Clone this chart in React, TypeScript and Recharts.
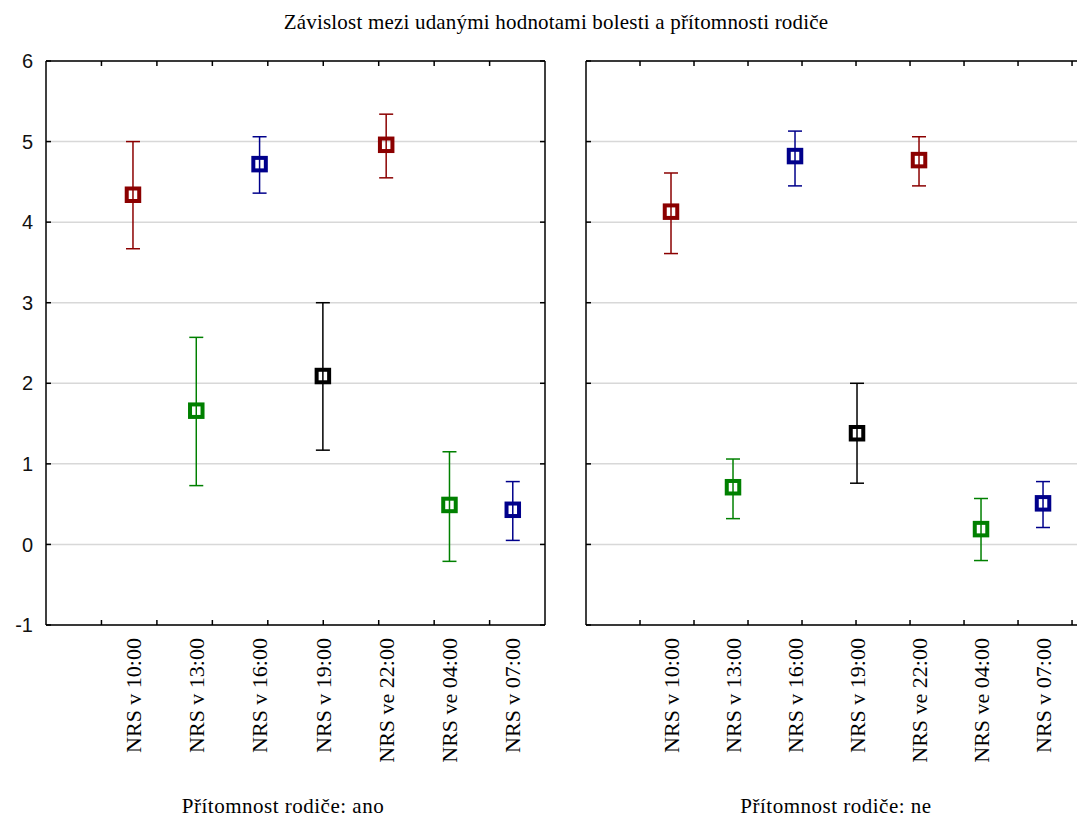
import { ScatterChart, Scatter, XAxis, YAxis, CartesianGrid, ErrorBar } from 'recharts'

const CATEGORIES = [
  'NRS v 10:00',
  'NRS v 13:00',
  'NRS v 16:00',
  'NRS v 19:00',
  'NRS ve 22:00',
  'NRS ve 04:00',
  'NRS v 07:00',
]
const POINT_COLORS = ['#8b0000', '#008000', '#00008b', '#000000', '#8b0000', '#008000', '#00008b']

// Přítomnost rodiče: ano
const ANO_MEAN = [4.34, 1.66, 4.72, 2.09, 4.96, 0.49, 0.43]
const ANO_LOW = [3.67, 0.73, 4.36, 1.17, 4.55, -0.21, 0.05]
const ANO_HIGH = [5.0, 2.57, 5.06, 3.0, 5.34, 1.15, 0.78]

// Přítomnost rodiče: ne
const NE_MEAN = [4.13, 0.71, 4.82, 1.38, 4.77, 0.19, 0.51]
const NE_LOW = [3.61, 0.32, 4.45, 0.76, 4.45, -0.2, 0.21]
const NE_HIGH = [4.61, 1.06, 5.13, 2.0, 5.06, 0.57, 0.78]

const Y_TICKS = [-1, 0, 1, 2, 3, 4, 5, 6]
const CAT_TICKS = [1, 2, 3, 4, 5, 6, 7]

const TITLE = 'Závislost mezi udanými hodnotami bolesti a přítomnosti rodiče'
const PANEL_LABELS = ['Přítomnost rodiče: ano', 'Přítomnost rodiče: ne']

const SERIF = '"Liberation Serif", "Times New Roman", serif'
const SANS = '"Liberation Sans", Arial, sans-serif'

function buildRows(mean: number[], low: number[], high: number[]) {
  return mean.map((m, i) => ({
    x: i + 1,
    y: m,
    err: [m - low[i], high[i] - m],
  }))
}

const SquareMarker = (props: any) => {
  const { cx, cy, fill } = props
  if (cx == null || cy == null) return null
  return (
    <rect x={cx - 6.25} y={cy - 6.25} width={12.5} height={12.5} fill="none" stroke={fill} strokeWidth={4} />
  )
}

const Nothing = () => <g />

const CategoryTick = (props: any) => {
  const { x, y, payload } = props
  const label = CATEGORIES[payload.value - 1]
  if (!label) return null
  return (
    <text
      x={x}
      y={y}
      transform={`rotate(-90, ${x}, ${y})`}
      textAnchor="end"
      dy="0.35em"
      fontFamily={SERIF}
      fontSize={22}
      fill="#000"
    >
      {label}
    </text>
  )
}

const frameLine = { stroke: '#000', strokeWidth: 1.5 }

interface PanelProps {
  mean: number[]
  low: number[]
  high: number[]
  domain: [number, number]
  frameStep: number
  showYLabels: boolean
}

function Panel({ mean, low, high, domain, frameStep, showYLabels }: PanelProps) {
  const rows = buildRows(mean, low, high)
  const frameTicks: number[] = []
  for (let v = domain[0] + frameStep; v < domain[1] - 0.01; v += frameStep) frameTicks.push(v)

  return (
    <ScatterChart
      width={560}
      height={818}
      margin={{ top: 61, right: 15, bottom: 0, left: showYLabels ? 0 : 46 }}
    >
      <CartesianGrid
        xAxisId="cat"
        yAxisId="val"
        vertical={false}
        stroke="#d8d8d8"
        strokeWidth={1.5}
      />
      <XAxis
        xAxisId="cat"
        type="number"
        dataKey="x"
        domain={domain}
        ticks={CAT_TICKS}
        interval={0}
        allowDataOverflow
        height={193}
        axisLine={false}
        tickLine={false}
        tickSize={0}
        tickMargin={13}
        tick={<CategoryTick />}
      />
      <XAxis
        xAxisId="bottomFrame"
        type="number"
        dataKey="x"
        domain={domain}
        ticks={frameTicks}
        interval={0}
        allowDataOverflow
        mirror
        tick={<Nothing />}
        tickSize={5}
        axisLine={frameLine}
        tickLine={frameLine}
      />
      <XAxis
        xAxisId="topFrame"
        orientation="top"
        type="number"
        dataKey="x"
        domain={domain}
        ticks={frameTicks}
        interval={0}
        allowDataOverflow
        mirror
        tick={<Nothing />}
        tickSize={5}
        axisLine={frameLine}
        tickLine={frameLine}
      />
      {showYLabels ? (
        <YAxis
          yAxisId="val"
          type="number"
          domain={[-1, 6]}
          ticks={Y_TICKS}
          interval={0}
          allowDataOverflow
          width={46}
          axisLine={false}
          tickLine={false}
          tickSize={6}
          tickMargin={7}
          tick={{ fontFamily: SANS, fontSize: 20, fill: '#111' }}
        />
      ) : (
        <YAxis yAxisId="val" type="number" domain={[-1, 6]} ticks={Y_TICKS} allowDataOverflow hide />
      )}
      <YAxis
        yAxisId="leftFrame"
        type="number"
        domain={[-1, 6]}
        ticks={Y_TICKS}
        interval={0}
        allowDataOverflow
        mirror
        tick={<Nothing />}
        tickSize={5}
        axisLine={frameLine}
        tickLine={frameLine}
      />
      <YAxis
        yAxisId="rightFrame"
        orientation="right"
        type="number"
        domain={[-1, 6]}
        ticks={Y_TICKS}
        interval={0}
        allowDataOverflow
        mirror
        tick={<Nothing />}
        tickSize={5}
        axisLine={frameLine}
        tickLine={frameLine}
      />
      {/* invisible series so that the frame axes get a scale and draw their ticks */}
      <Scatter
        xAxisId="bottomFrame"
        yAxisId="leftFrame"
        data={rows}
        dataKey="y"
        shape={<Nothing />}
        legendType="none"
        isAnimationActive={false}
      />
      <Scatter
        xAxisId="topFrame"
        yAxisId="rightFrame"
        data={rows}
        dataKey="y"
        shape={<Nothing />}
        legendType="none"
        isAnimationActive={false}
      />
      {rows.map((row, i) => (
        <Scatter
          key={CATEGORIES[i]}
          xAxisId="cat"
          yAxisId="val"
          data={[row]}
          dataKey="y"
          fill={POINT_COLORS[i]}
          shape={<SquareMarker />}
          isAnimationActive={false}
        >
          <ErrorBar
            dataKey="err"
            direction="y"
            width={7}
            stroke={POINT_COLORS[i]}
            strokeWidth={1.5}
            isAnimationActive={false}
          />
        </Scatter>
      ))}
    </ScatterChart>
  )
}

export default function App() {
  return (
    <div
      style={{
        position: 'absolute',
        left: 0,
        top: 0,
        width: 1077,
        height: 818,
        overflow: 'hidden',
        background: '#fff',
      }}
    >
      <div style={{ position: 'absolute', left: 0, top: 0 }}>
        <Panel
          mean={ANO_MEAN}
          low={ANO_LOW}
          high={ANO_HIGH}
          domain={[-0.374, 7.509]}
          frameStep={0.876}
          showYLabels
        />
      </div>
      <div style={{ position: 'absolute', left: 540, top: 0 }}>
        <Panel
          mean={NE_MEAN}
          low={NE_LOW}
          high={NE_HIGH}
          domain={[-0.371, 7.677]}
          frameStep={0.871}
          showYLabels={false}
        />
      </div>
      <svg
        width={1077}
        height={818}
        style={{ position: 'absolute', left: 0, top: 0, pointerEvents: 'none' }}
      >
        <text x={556} y={29} textAnchor="middle" fontFamily={SERIF} fontSize={21} letterSpacing={0.2} fill="#000">
          {TITLE}
        </text>
        <text x={283} y={813} textAnchor="middle" fontFamily={SERIF} fontSize={21} letterSpacing={0.5} fill="#000">
          {PANEL_LABELS[0]}
        </text>
        <text x={836} y={813} textAnchor="middle" fontFamily={SERIF} fontSize={21} letterSpacing={0.5} fill="#000">
          {PANEL_LABELS[1]}
        </text>
      </svg>
    </div>
  )
}
